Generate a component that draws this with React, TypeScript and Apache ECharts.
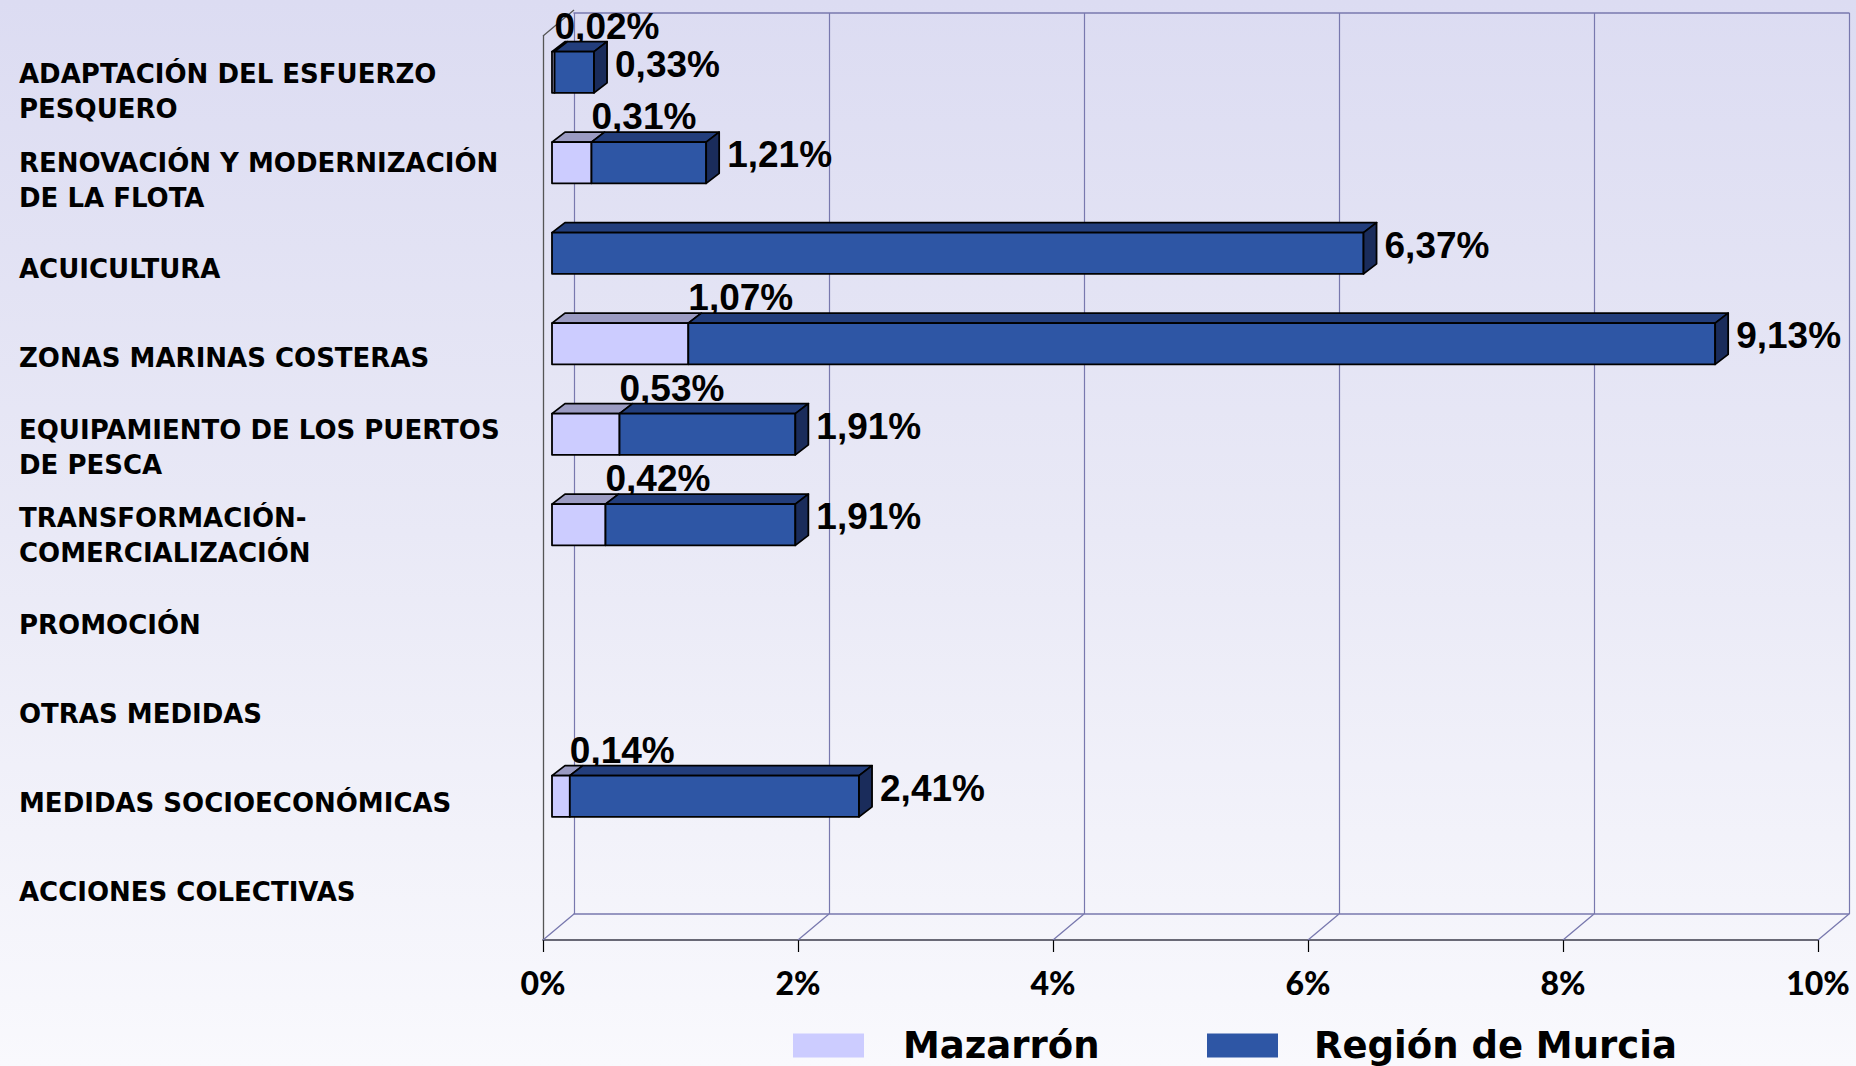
import React, { useEffect, useRef } from "react";
import * as echarts from "echarts";

const categories = [
  "ADAPTACIÓN DEL ESFUERZO\nPESQUERO",
  "RENOVACIÓN Y MODERNIZACIÓN\nDE LA FLOTA",
  "ACUICULTURA",
  "ZONAS MARINAS COSTERAS",
  "EQUIPAMIENTO DE LOS PUERTOS\nDE PESCA",
  "TRANSFORMACIÓN-\nCOMERCIALIZACIÓN",
  "PROMOCIÓN",
  "OTRAS MEDIDAS",
  "MEDIDAS SOCIOECONÓMICAS",
  "ACCIONES COLECTIVAS",
];
const mazarron = [0.02, 0.31, 0, 1.07, 0.53, 0.42, 0, 0, 0.14, 0];
const murcia = [0.33, 1.21, 6.37, 9.13, 1.91, 1.91, 0, 0, 2.41, 0];
const xTicks = [0, 2, 4, 6, 8, 10];
const seriesNames = ["Mazarrón", "Región de Murcia"];

// layout constants
const BAR_DX = 13;
const BAR_DY = -10;
const FRAME_DX = 31;
const FRAME_DY = -26;
const LIGHT = "#ccccff";
const LIGHT_TOP = "#9b9bc2";
const DARK = "#2e56a5";
const DARK_TOP = "#233e7c";
const DARK_SIDE = "#1a2c5b";
const FRAME = "#7878ae";
const LABEL_FONT = 'bold 37px "Liberation Sans", Arial, sans-serif';

const fmt = (v: number) => v.toFixed(2).replace(".", ",") + "%";

function box(api: any, start: number, end: number, cat: number, front: string, top: string, side: string | null) {
  const c0 = api.coord([start, cat]);
  const c1 = api.coord([end, cat]);
  const band = api.size([0, 1])[1];
  const h = band * 0.455;
  const x0 = c0[0];
  const x1 = c1[0];
  const yt = c0[1] - h / 2;
  const yb = c0[1] + h / 2;
  const stroke = { stroke: "#000", lineWidth: 1.8, lineJoin: "round" };
  const children: any[] = [
    {
      type: "polygon",
      shape: { points: [[x0, yt], [x1, yt], [x1 + BAR_DX, yt + BAR_DY], [x0 + BAR_DX, yt + BAR_DY]] },
      style: { fill: top, ...stroke },
    },
    {
      type: "rect",
      shape: { x: x0, y: yt, width: x1 - x0, height: h },
      style: { fill: front, ...stroke },
    },
  ];
  if (side) {
    children.push({
      type: "polygon",
      shape: { points: [[x1, yt], [x1 + BAR_DX, yt + BAR_DY], [x1 + BAR_DX, yb + BAR_DY], [x1, yb]] },
      style: { fill: side, ...stroke },
    });
  }
  return { children, x1, cy: c0[1] };
}

export default function App() {
  const ref = useRef<HTMLDivElement>(null);
  useEffect(() => {
    if (!ref.current) return;
    const chart = echarts.init(ref.current, undefined, { renderer: "svg" });
    const legendText = {
      fontFamily: "DejaVu Sans",
      fontWeight: "bold",
      fontSize: 37,
      lineHeight: 30,
      color: "#000",
    };
    const option: any = {
      animation: false,
      backgroundColor: "transparent",
      grid: [
        { left: 552, top: 27, width: 1274, height: 905 },
        { left: 543, top: 36, width: 1275, height: 904 },
        { left: 574, top: 13, width: 1275, height: 901 },
        { left: 540, top: 47, width: 100, height: 889 },
      ],
      xAxis: [
        { gridIndex: 0, type: "value", min: 0, max: 10, show: false },
        {
          gridIndex: 1,
          type: "value",
          min: 0,
          max: 10,
          interval: 2,
          axisLine: { show: true, onZero: false, lineStyle: { color: "#3a3a4a", width: 1.5 } },
          axisTick: { show: true, length: 12, lineStyle: { color: "#000", width: 1.2 } },
          axisLabel: {
            formatter: (v: number) => v + "%",
            fontFamily: "Lato",
            fontWeight: 900,
            fontSize: 32,
            color: "#000",
            margin: 26,
          },
          splitLine: { show: false },
        },
        {
          gridIndex: 2,
          type: "value",
          min: 0,
          max: 10,
          interval: 2,
          axisLine: { show: true, onZero: false, lineStyle: { color: FRAME, width: 1.5 } },
          axisTick: { show: false },
          axisLabel: { show: false },
          splitLine: { show: true, showMinLine: true, showMaxLine: true, lineStyle: { color: FRAME, width: 1.2 } },
        },
        {
          gridIndex: 2,
          type: "value",
          position: "top",
          min: 0,
          max: 10,
          interval: 2,
          axisLine: { show: true, onZero: false, lineStyle: { color: FRAME, width: 1.5 } },
          axisTick: { show: false },
          axisLabel: { show: false },
          splitLine: { show: false },
        },
        { gridIndex: 3, type: "value", show: false },
      ],
      yAxis: [
        { gridIndex: 0, type: "category", data: categories, inverse: true, show: false },
        {
          gridIndex: 1,
          type: "value",
          min: 0,
          max: 1,
          axisLine: { show: true, onZero: false, lineStyle: { color: "#555", width: 1.3 } },
          axisTick: { show: false },
          axisLabel: { show: false },
          splitLine: { show: false },
        },
        { gridIndex: 2, type: "value", min: 0, max: 1, show: false },
        {
          gridIndex: 3,
          type: "category",
          data: categories,
          inverse: true,
          axisLine: { show: false },
          axisTick: { show: false },
          splitLine: { show: false },
          axisLabel: {
            align: "left",
            margin: 521,
            fontFamily: "DejaVu Sans",
            fontWeight: "bold",
            fontSize: 26,
            lineHeight: 35,
            color: "#000",
            interval: 0,
          },
        },
      ],
      legend: [
        {
          data: [seriesNames[0]],
          left: 793,
          top: 1027,
          padding: 0,
          itemWidth: 71,
          itemHeight: 24,
          icon: "rect",
          itemStyle: { borderWidth: 0 },
          textStyle: { ...legendText, padding: [0, 0, 0, 34] },
        },
        {
          data: [seriesNames[1]],
          left: 1207,
          top: 1027,
          padding: 0,
          itemWidth: 71,
          itemHeight: 24,
          icon: "rect",
          itemStyle: { borderWidth: 0 },
          textStyle: { ...legendText, padding: [0, 0, 0, 31] },
        },
      ],
      series: [
        {
          type: "custom",
          name: "frame",
          xAxisIndex: 1,
          yAxisIndex: 1,
          silent: true,
          clip: false,
          z: 1,
          data: xTicks.map((v) => [v]),
          encode: { x: 0 },
          renderItem: (params: any, api: any) => {
            const v = api.value(0);
            const p = api.coord([v, 0]);
            const children: any[] = [
              {
                type: "line",
                shape: { x1: p[0], y1: p[1], x2: p[0] + FRAME_DX, y2: p[1] + FRAME_DY },
                style: { stroke: FRAME, lineWidth: 1.3 },
              },
            ];
            if (v === 0) {
              const q = api.coord([0, 1]);
              children.push({
                type: "line",
                shape: { x1: q[0], y1: q[1], x2: q[0] + FRAME_DX, y2: q[1] + FRAME_DY },
                style: { stroke: "#555", lineWidth: 1.3 },
              });
            }
            return { type: "group", children };
          },
        },
        {
          type: "custom",
          name: seriesNames[0],
          xAxisIndex: 0,
          yAxisIndex: 0,
          clip: false,
          z: 3,
          itemStyle: { color: LIGHT },
          data: mazarron.map((v, i) => [v, i]),
          encode: { x: 0, y: 1 },
          renderItem: (params: any, api: any) => {
            const v = api.value(0);
            const cat = api.value(1);
            if (!v) return { type: "group", children: [] };
            const b = box(api, 0, v, cat, LIGHT, LIGHT_TOP, null);
            b.children.push({
              type: "text",
              style: { text: fmt(v), x: b.x1, y: b.cy - 46, font: LABEL_FONT, fill: "#000", align: "left", verticalAlign: "middle" },
              z2: 10,
            });
            return { type: "group", children: b.children };
          },
        },
        {
          type: "custom",
          name: seriesNames[1],
          xAxisIndex: 0,
          yAxisIndex: 0,
          clip: false,
          z: 4,
          itemStyle: { color: DARK },
          data: murcia.map((v, i) => [mazarron[i], v, i]),
          encode: { x: [0, 1], y: 2 },
          renderItem: (params: any, api: any) => {
            const s = api.value(0);
            const e = api.value(1);
            const cat = api.value(2);
            if (!e) return { type: "group", children: [] };
            const b = box(api, s, e, cat, DARK, DARK_TOP, DARK_SIDE);
            b.children.push({
              type: "text",
              style: { text: fmt(e), x: b.x1 + BAR_DX + 8, y: b.cy - 8, font: LABEL_FONT, fill: "#000", align: "left", verticalAlign: "middle" },
              z2: 10,
            });
            return { type: "group", children: b.children };
          },
        },
      ],
    };
    chart.setOption(option);
    return () => chart.dispose();
  }, []);
  return (
    <div
      ref={ref}
      style={{
        position: "fixed",
        left: 0,
        top: 0,
        width: 1856,
        height: 1066,
        background: "linear-gradient(to bottom, #dcdcf2 0%, #e9e9f6 50%, #f9f9fd 100%)",
      }}
    />
  );
}
